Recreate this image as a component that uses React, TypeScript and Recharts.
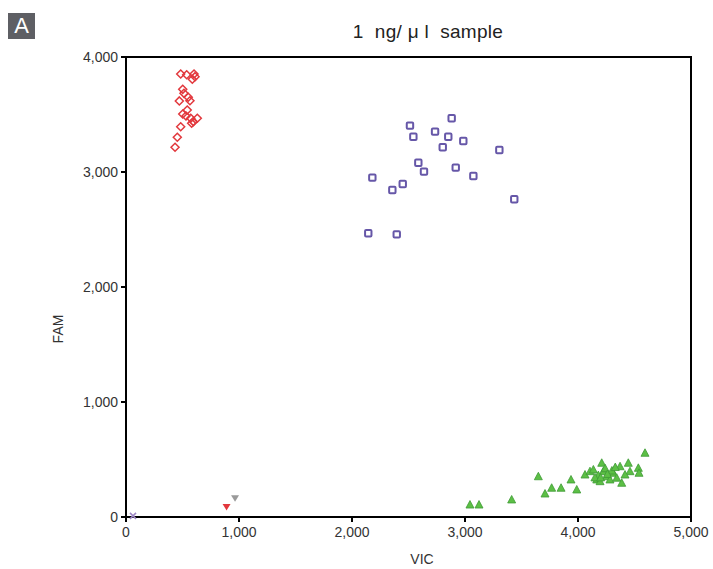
import React from 'react';
import { ScatterChart, Scatter, XAxis, YAxis, ReferenceArea } from 'recharts';

// Cluster values: [VIC, FAM]
const famCluster: [number, number][] = [
  [484, 3852], [537, 3846], [602, 3852], [587, 3806], [611, 3829],
  [502, 3719], [513, 3684], [551, 3650], [566, 3620], [472, 3618],
  [542, 3539], [502, 3504], [531, 3487], [573, 3467], [596, 3438],
  [631, 3467], [484, 3394], [454, 3302], [434, 3215], [581, 3424],
];

const bothCluster: [number, number][] = [
  [2882, 3467], [2513, 3403], [2543, 3307], [2735, 3351], [2852, 3307],
  [2985, 3270], [2803, 3215], [3304, 3191], [2587, 3081], [2637, 3003],
  [2918, 3038], [3074, 2965], [2180, 2951], [2449, 2896], [2357, 2844],
  [3436, 2763], [2144, 2467], [2396, 2458],
];

const vicCluster: [number, number][] = [
  [3044, 104], [3124, 104], [3413, 148], [3649, 350], [3708, 200],
  [3767, 250], [3850, 250], [3938, 322], [3989, 235], [4062, 365],
  [4106, 394], [4210, 467], [4166, 322], [4254, 350], [4313, 380],
  [4372, 437], [4387, 293], [4445, 467], [4460, 394], [4534, 423],
  [4540, 380], [4593, 554], [4136, 409], [4224, 394], [4283, 322],
  [4195, 307], [4343, 337], [4416, 365], [4180, 360], [4240, 420],
  [4300, 400], [4260, 370], [4150, 340], [4330, 430], [4200, 340],
];

const negCluster: [number, number][] = [[62, 10]];
const redOutliers: [number, number][] = [[890, 88]];
const grayOutliers: [number, number][] = [[965, 162]];

const xTicks = [0, 1000, 2000, 3000, 4000, 5000];
const yTicks = [0, 1000, 2000, 3000, 4000];

const toPoints = (arr: [number, number][]) => arr.map(([x, y]) => ({ x, y }));

const fmt = (v: number) => v.toLocaleString('en-US');

const Diamond = (props: any) => {
  const { cx, cy } = props;
  const r = 4;
  return (
    <path
      d={`M${cx},${cy - r}L${cx + r},${cy}L${cx},${cy + r}L${cx - r},${cy}Z`}
      fill="none"
      stroke="#e2383d"
      strokeWidth={1.5}
    />
  );
};

const Square = (props: any) => {
  const { cx, cy } = props;
  return (
    <rect x={cx - 3.2} y={cy - 3.2} width={6.4} height={6.4} rx={1} fill="none" stroke="#6657a8" strokeWidth={2} />
  );
};

const Triangle = (props: any) => {
  const { cx, cy } = props;
  return (
    <path
      d={`M${cx},${cy - 4.5}L${cx + 4},${cy + 3}L${cx - 4},${cy + 3}Z`}
      fill="#5cbf45"
      stroke="#3f9a36"
      strokeWidth={0.8}
    />
  );
};

const DownTriangle = (color: string) => (props: any) => {
  const { cx, cy } = props;
  return (
    <path d={`M${cx - 4},${cy - 3}L${cx + 4},${cy - 3}L${cx},${cy + 3.5}Z`} fill={color} />
  );
};

const Cross = (props: any) => {
  const { cx, cy } = props;
  return (
    <path
      d={`M${cx - 3},${cy - 3}L${cx + 3},${cy + 3}M${cx + 3},${cy - 3}L${cx - 3},${cy + 3}`}
      stroke="#9d86c4"
      strokeWidth={1.5}
    />
  );
};

const tickStyle = { fill: '#333', fontSize: 14, fontFamily: '"Liberation Sans", Arial, sans-serif' };

export default function App() {
  return (
    <div style={{ position: 'absolute', left: 0, top: 0, width: 713, height: 569, background: '#fff', fontFamily: '"Liberation Sans", Arial, sans-serif' }}>
      <div
        style={{
          position: 'absolute', left: 8, top: 13, width: 27, height: 26, background: '#5e5f64',
          color: '#fff', fontSize: 22, lineHeight: '26px', textAlign: 'center',
        }}
      >
        A
      </div>
      <div style={{ position: 'absolute', left: 0, width: 713, top: 21, textAlign: 'center', fontSize: 19, color: '#222', paddingLeft: 143, boxSizing: 'border-box', letterSpacing: 0.3 }}>
        1&nbsp; ng/ μ l&nbsp; sample
      </div>
      <div style={{ position: 'absolute', left: 402, width: 40, top: 551, textAlign: 'center', fontSize: 14, color: '#333' }}>
        VIC
      </div>
      <div style={{ position: 'absolute', left: 38, width: 40, top: 321, textAlign: 'center', fontSize: 14, color: '#333', transform: 'rotate(-90deg)' }}>
        FAM
      </div>
      <ScatterChart width={713} height={569} margin={{ top: 57, right: 22, left: 0, bottom: 0 }}>
        <XAxis
          type="number"
          dataKey="x"
          domain={[0, 5000]}
          ticks={xTicks}
          tickFormatter={fmt}
          height={52}
          tick={{ ...tickStyle, dy: 3 }}
          tickSize={5}
          axisLine={{ stroke: '#000', strokeWidth: 2 }}
          tickLine={{ stroke: '#000', strokeWidth: 2 }}
        />
        <YAxis
          type="number"
          dataKey="y"
          domain={[0, 4000]}
          ticks={yTicks}
          tickFormatter={fmt}
          width={126}
          tick={{ ...tickStyle, dx: -1 }}
          tickSize={5}
          axisLine={{ stroke: '#000', strokeWidth: 2 }}
          tickLine={{ stroke: '#000', strokeWidth: 2 }}
        />
        <ReferenceArea x1={0} x2={5000} y1={0} y2={4000} fill="none" stroke="#000" strokeWidth={2} fillOpacity={0} />
        <Scatter data={toPoints(negCluster)} shape={Cross} isAnimationActive={false} />
        <Scatter data={toPoints(redOutliers)} shape={DownTriangle('#e2383d')} isAnimationActive={false} />
        <Scatter data={toPoints(grayOutliers)} shape={DownTriangle('#9a9a9a')} isAnimationActive={false} />
        <Scatter data={toPoints(vicCluster)} shape={Triangle} isAnimationActive={false} />
        <Scatter data={toPoints(bothCluster)} shape={Square} isAnimationActive={false} />
        <Scatter data={toPoints(famCluster)} shape={Diamond} isAnimationActive={false} />
      </ScatterChart>
    </div>
  );
}
